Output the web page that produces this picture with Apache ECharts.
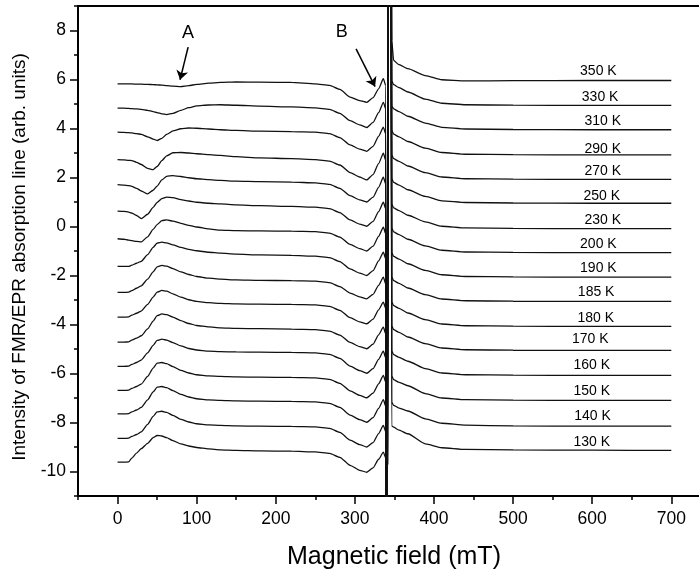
<!DOCTYPE html>
<html><head><meta charset="utf-8">
<script src="https://cdn.jsdelivr.net/npm/echarts@6/dist/echarts.min.js"></script>
<style>html,body{margin:0;padding:0;background:#fff}#c{width:699px;height:573px}</style>
</head><body><div id="c"></div>
<script>
// Magnetic field (mT) sample points shared by all spectra
const field = [0,8,14,18,24,30,38,45,50,56,62,70,80,90,100,115,130,150,180,220,
  250,268,281,294,306,315,323,330,336,339,340.2,341,342.8,345,
  346.5,349,355,367,389,410,440,500,600,700];
const temperatures = ['350 K','330 K','310 K','290 K','270 K','250 K','230 K','200 K','190 K','185 K','180 K','170 K','160 K','150 K','140 K','130 K'];

const s350 = [5.82,5.82,5.82,5.82,5.81,5.81,5.80,5.79,5.78,5.77,5.75,5.73,5.71,5.75,5.80,5.85,5.88,5.90,5.89,5.88, 5.82,5.76,5.60,5.28,5.14,5.07,5.26,5.62,6.03, 5.75, -40,-40,40,40, 7.6,6.78,6.62,6.44,6.16,5.99,5.94,5.95,5.96,5.96];
const s330 = [4.83,4.83,4.82,4.81,4.80,4.78,4.74,4.69,4.65,4.60,4.57,4.62,4.74,4.85,4.92,4.96,4.97,4.95,4.91,4.88, 4.84,4.78,4.62,4.32,4.15,4.04,4.25,4.65,5.07, 4.80, -40,-40,40,40, 5.94,5.79,5.68,5.49,5.20,5.03,4.97,4.95,4.94,4.94];
const s310 = [3.85,3.84,3.83,3.82,3.79,3.76,3.66,3.57,3.51,3.60,3.76,3.90,3.99,4.02,4.01,3.98,3.95,3.92,3.89,3.87, 3.85,3.79,3.63,3.33,3.16,3.07,3.27,3.68,4.05, 3.78, -40,-40,40,40, 4.92,4.80,4.70,4.50,4.22,4.05,3.98,3.96,3.95,3.95];
const s290 = [2.73,2.72,2.70,2.69,2.62,2.53,2.37,2.32,2.45,2.69,2.88,3.01,3.02,3.00,2.97,2.93,2.90,2.85,2.80,2.77, 2.73,2.67,2.51,2.20,2.02,1.90,2.12,2.57,2.99, 2.70, -40,-40,40,40, 3.92,3.77,3.67,3.47,3.20,3.02,2.95,2.93,2.92,2.92];
const s270 = [1.71,1.69,1.67,1.64,1.56,1.45,1.33,1.48,1.65,1.90,2.05,2.08,2.04,1.99,1.95,1.91,1.88,1.85,1.83,1.81, 1.78,1.72,1.56,1.26,1.09,1.00,1.20,1.60,2.01, 1.73, -40,-40,40,40, 2.92,2.77,2.67,2.47,2.20,2.02,1.95,1.93,1.92,1.92];
const s250 = [0.63,0.62,0.59,0.55,0.45,0.32,0.50,0.78,0.98,1.14,1.20,1.18,1.10,1.04,0.99,0.95,0.92,0.88,0.85,0.82, 0.79,0.73,0.57,0.27,0.10,0.01,0.21,0.61,0.99, 0.72, -40,-40,40,40, 1.95,1.80,1.70,1.50,1.23,1.05,0.98,0.96,0.95,0.95];
const s230 = [-0.50,-0.52,-0.56,-0.58,-0.61,-0.63,-0.42,-0.12,0.08,0.24,0.27,0.22,0.13,0.05,-0.02,-0.10,-0.15,-0.17,-0.18,-0.19, -0.21,-0.27,-0.43,-0.73,-0.90,-1.00,-0.80,-0.40,-0.03, -0.30, -40,-40,40,40, 0.91,0.76,0.66,0.46,0.19,0.01,-0.06,-0.08,-0.09,-0.09];
const s200 = [-1.63,-1.63,-1.63,-1.58,-1.50,-1.42,-1.15,-0.85,-0.68,-0.64,-0.67,-0.75,-0.85,-0.93,-0.99,-1.05,-1.09,-1.13,-1.16,-1.18, -1.21,-1.27,-1.43,-1.73,-1.90,-2.00,-1.80,-1.40,-1.05, -1.32, -40,-40,40,40, -0.07,-0.22,-0.32,-0.52,-0.79,-0.97,-1.04,-1.06,-1.07,-1.07];
const s190 = [-2.69,-2.69,-2.68,-2.62,-2.52,-2.42,-2.15,-1.85,-1.65,-1.59,-1.62,-1.72,-1.85,-1.96,-2.04,-2.11,-2.15,-2.18,-2.20,-2.21, -2.23,-2.29,-2.45,-2.72,-2.87,-2.95,-2.77,-2.40,-2.07, -2.35, -40,-40,40,40, -1.07,-1.22,-1.32,-1.52,-1.79,-1.97,-2.04,-2.06,-2.07,-2.07];
const s185 = [-3.70,-3.70,-3.69,-3.62,-3.54,-3.45,-3.18,-2.88,-2.68,-2.61,-2.64,-2.75,-2.88,-2.99,-3.06,-3.11,-3.14,-3.16,-3.17,-3.18, -3.20,-3.26,-3.42,-3.72,-3.89,-3.97,-3.78,-3.40,-3.09, -3.35, -40,-40,40,40, -2.06,-2.21,-2.31,-2.51,-2.78,-2.96,-3.03,-3.05,-3.06,-3.06];
const s180 = [-4.72,-4.72,-4.71,-4.64,-4.56,-4.46,-4.18,-3.86,-3.64,-3.57,-3.60,-3.70,-3.84,-3.96,-4.04,-4.10,-4.14,-4.16,-4.17,-4.19, -4.21,-4.27,-4.43,-4.73,-4.90,-4.99,-4.80,-4.42,-4.11, -4.38, -40,-40,40,40, -3.08,-3.23,-3.33,-3.53,-3.80,-3.98,-4.05,-4.07,-4.08,-4.08];
const s170 = [-5.71,-5.71,-5.70,-5.63,-5.55,-5.45,-5.16,-4.85,-4.65,-4.60,-4.64,-4.74,-4.87,-4.98,-5.04,-5.09,-5.11,-5.12,-5.13,-5.14, -5.16,-5.22,-5.38,-5.70,-5.88,-5.99,-5.80,-5.42,-5.09, -5.36, -40,-40,40,40, -4.06,-4.21,-4.31,-4.51,-4.78,-4.96,-5.03,-5.05,-5.06,-5.06];
const s160 = [-6.69,-6.69,-6.68,-6.61,-6.53,-6.43,-6.12,-5.78,-5.58,-5.55,-5.60,-5.72,-5.87,-5.98,-6.05,-6.10,-6.12,-6.14,-6.15,-6.16, -6.18,-6.24,-6.40,-6.71,-6.89,-6.99,-6.80,-6.42,-6.08, -6.35, -40,-40,40,40, -5.08,-5.23,-5.33,-5.50,-5.80,-5.98,-6.05,-6.07,-6.08,-6.08];
const s150 = [-7.65,-7.65,-7.64,-7.57,-7.49,-7.38,-7.08,-6.75,-6.56,-6.53,-6.58,-6.70,-6.85,-6.96,-7.03,-7.08,-7.10,-7.12,-7.13,-7.14, -7.16,-7.22,-7.38,-7.70,-7.88,-7.99,-7.80,-7.42,-7.07, -7.34, -40,-40,40,40, -6.10,-6.25,-6.35,-6.50,-6.82,-7.00,-7.07,-7.09,-7.10,-7.10];
const s140 = [-8.65,-8.65,-8.64,-8.57,-8.49,-8.38,-8.08,-7.75,-7.57,-7.54,-7.59,-7.71,-7.87,-7.98,-8.05,-8.10,-8.12,-8.14,-8.15,-8.16, -8.18,-8.24,-8.40,-8.72,-8.90,-9.00,-8.82,-8.45,-8.12, -8.38, -40,-40,40,40, -7.17,-7.30,-7.40,-7.53,-7.85,-8.03,-8.11,-8.14,-8.15,-8.15];
const s130 = [-9.62,-9.62,-9.61,-9.45,-9.25,-9.07,-8.85,-8.62,-8.53,-8.55,-8.62,-8.74,-8.87,-8.96,-9.02,-9.08,-9.12,-9.14,-9.16,-9.17, -9.20,-9.26,-9.42,-9.75,-9.95,-10.03,-9.85,-9.50,-9.21, -9.45, -40,-40,40,40, -8.14,-8.19,-8.30,-8.46,-8.87,-9.03,-9.10,-9.12,-9.13,-9.14];
const seriesValues = [s350,s330,s310,s290,s270,s250,s230,s200,s190,s185,s180,s170,s160,s150,s140,s130];

// temperature label anchor (field, level)
const labelField = [607.8,610,613.4,613.4,613.4,612.1,613.4,607.8,607.8,605,604.6,597.5,599.5,599.5,600.3,599.5];
const labelLevel = [6.34,5.28,4.30,3.17,2.26,1.22,0.24,-0.71,-1.70,-2.68,-3.73,-4.61,-5.67,-6.73,-7.76,-8.80];

const xTicks = [0,100,200,300,400,500,600,700];
const xMinorTicks = [-50,50,150,250,350,450,550,650];
const yTicks = [-10,-8,-6,-4,-2,0,2,4,6,8];
const yMinorTicks = [-11,-9,-7,-5,-3,-1,1,3,5,7,9];

// annotation arrows A and B
const annotText = [{t:'A', x:89.1, y:7.9},{t:'B', x:283.4, y:7.93}];
const annotArrows = [[[89.2,7.32],[79,5.99]],[[301.5,7.25],[325.5,5.71]]];

const FONT = '"Liberation Sans", Arial, Helvetica, sans-serif';
const chart = echarts.init(document.getElementById('c'), null, {renderer:'canvas'});
const XMIN = -50, XMAX = 735, YMIN = -11, YMAX = 9;
const blackLine = {color:'#000', width:2};

const series = seriesValues.map((vals, i) => {
  const s = {
    type:'line', name: temperatures[i],
    data: field.map((f, k) => [f, vals[k]]),
    showSymbol:false, symbol:'none', clip:true, silent:true,
    smooth:0.2, smoothMonotone:'x',
    lineStyle:{color:'#111', width:1.3},
    markPoint:{
      symbol:'rect', symbolSize:[1,1], silent:true,
      itemStyle:{color:'rgba(0,0,0,0)'},
      label:{show:true, position:'inside', color:'#000', fontSize:14, fontFamily:FONT, formatter:'{b}'},
      data:[{name:temperatures[i], coord:[labelField[i], labelLevel[i]]}]
    }
  };
  if (i === 0) {
    s.markPoint.data = s.markPoint.data.concat(annotText.map(a => ({
      name:a.t, coord:[a.x, a.y], label:{fontSize:18, formatter:'{b}'}
    })));
    s.markLine = {
      silent:true, symbol:['none','arrow'], symbolSize:9,
      lineStyle:{color:'#000', width:1.5, type:'solid'},
      label:{show:false},
      data: annotArrows.map(a => [{coord:a[0]},{coord:a[1]}])
    };
  }
  return s;
});

const option = {
  animation:false,
  backgroundColor:'#fff',
  grid:{left:78, right:0, top:6, bottom:77},
  xAxis:[
    {type:'value', min:XMIN, max:XMAX, position:'bottom',
     axisLine:{show:true, onZero:false, lineStyle:blackLine},
     axisTick:{show:true, inside:false, length:8, customValues:xTicks, lineStyle:{color:'#000', width:1.5}},
     axisLabel:{show:true, customValues:xTicks, fontSize:17.5, color:'#000', margin:14, fontFamily:FONT},
     splitLine:{show:false}},
    {type:'value', min:XMIN, max:XMAX, position:'bottom',
     axisLine:{show:false, onZero:false},
     axisTick:{show:true, inside:false, length:4, customValues:xMinorTicks, lineStyle:{color:'#000', width:1.5}},
     axisLabel:{show:false}, splitLine:{show:false}},
    {type:'value', min:XMIN, max:XMAX, position:'top',
     axisLine:{show:true, onZero:false, lineStyle:blackLine},
     axisTick:{show:false}, axisLabel:{show:false}, splitLine:{show:false}}
  ],
  yAxis:[
    {type:'value', min:YMIN, max:YMAX, position:'left',
     axisLine:{show:true, onZero:false, lineStyle:blackLine},
     axisTick:{show:true, inside:false, length:8, customValues:yTicks, lineStyle:{color:'#000', width:1.5}},
     axisLabel:{show:true, customValues:yTicks, fontSize:17.5, color:'#000', margin:12, fontFamily:FONT},
     splitLine:{show:false}},
    {type:'value', min:YMIN, max:YMAX, position:'left',
     axisLine:{show:false, onZero:false},
     axisTick:{show:true, inside:false, length:4, customValues:yMinorTicks, lineStyle:{color:'#000', width:1.5}},
     axisLabel:{show:false}, splitLine:{show:false}}
  ],
  series: series,
  graphic:[
    {type:'text', x:394, y:557, silent:true,
     style:{text:'Magnetic field (mT)', fontSize:25, fontFamily:FONT, fill:'#000', align:'center', verticalAlign:'middle', textAlign:'center', textVerticalAlign:'middle'}},
    {type:'text', x:20, y:257, rotation:Math.PI/2, silent:true,
     style:{text:'Intensity of FMR/EPR absorption line (arb. units)', fontSize:19, fontFamily:FONT, fill:'#000', align:'center', verticalAlign:'middle', textAlign:'center', textVerticalAlign:'middle'}}
  ]
};
chart.setOption(option);
</script></body></html>
